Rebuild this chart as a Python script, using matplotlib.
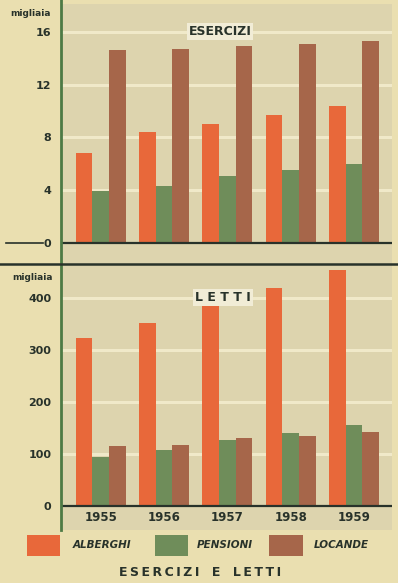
import matplotlib.pyplot as plt
from matplotlib.lines import Line2D
from matplotlib.patches import Rectangle

# Data (migliaia)
anni = ['1955', '1956', '1957', '1958', '1959']
esercizi_alberghi = [6.8, 8.4, 9.0, 9.7, 10.4]
esercizi_pensioni = [3.9, 4.3, 5.05, 5.5, 6.0]
esercizi_locande = [14.6, 14.7, 14.9, 15.05, 15.3]
letti_alberghi = [323, 351, 386, 418, 453]
letti_pensioni = [93, 107, 126, 140, 156]
letti_locande = [115, 117, 130, 135, 141]
serie = ['ALBERGHI', 'PENSIONI', 'LOCANDE']

# Colours
ORANGE = '#e8683a'
GREEN = '#6f8d5a'
BROWN = '#a6664a'
colori = [ORANGE, GREEN, BROWN]
BG = '#eadfb0'
PLOT_BG = '#ddd4ae'
GRID = '#f0e9c9'
DARK = '#28322a'
AXGREEN = '#4d7a45'

W, H = 398, 583
fig = plt.figure(figsize=(W / 100, H / 100), dpi=100)
fig.patch.set_facecolor(BG)


def px(x0, y0, x1, y1):
    # pixel box (top-left origin) -> figure fraction rect
    return [x0 / W, 1 - y1 / H, (x1 - x0) / W, (y1 - y0) / H]


def fx(x):
    return x / W


def fy(y):
    return 1 - y / H


# background panel for plot region
fig.add_artist(Rectangle((fx(61), fy(530)), fx(392) - fx(61), fy(4) - fy(530),
                         transform=fig.transFigure, facecolor=PLOT_BG,
                         edgecolor='none', zorder=0))

bw = 0.264
offs = [-bw, 0, bw]
xpos = list(range(len(anni)))


def setup(ax, ylim, ticks, grid):
    ax.set_facecolor('none')
    ax.set_xlim(-0.627, 4.60)
    ax.set_ylim(*ylim)
    for s in ax.spines.values():
        s.set_visible(False)
    ax.set_xticks([])
    ax.set_yticks(ticks)
    ax.set_yticklabels([str(t) for t in ticks], fontsize=8, fontweight='bold',
                       color=DARK)
    ax.tick_params(axis='y', length=0, pad=7)
    for g in grid:
        ax.axhline(g, color=GRID, lw=2.2, zorder=0.5)
    ax.axhline(0, color=DARK, lw=1.6, zorder=3)


# Top panel: ESERCIZI
ax1 = fig.add_axes(px(61, 4, 392, 262))
setup(ax1, (-1.45, 18.1), [0, 4, 8, 12, 16], [4, 8, 12, 16])
for k, vals in enumerate([esercizi_alberghi, esercizi_pensioni, esercizi_locande]):
    ax1.bar([x + offs[k] for x in xpos], vals, width=bw, color=colori[k],
            zorder=2, linewidth=0)
ax1.text(0.48, 16, 'ESERCIZI', ha='center', va='center', fontsize=9,
         fontweight='bold', color=DARK, transform=ax1.get_yaxis_transform(),
         bbox=dict(boxstyle='square,pad=0.15', facecolor='#f1ecd6',
                   edgecolor='none'), zorder=4)

# Bottom panel: LETTI
ax2 = fig.add_axes(px(61, 266, 392, 530))
setup(ax2, (-46.7, 461), [0, 100, 200, 300, 400], [100, 200, 300, 400])
for k, vals in enumerate([letti_alberghi, letti_pensioni, letti_locande]):
    ax2.bar([x + offs[k] for x in xpos], vals, width=bw, color=colori[k],
            zorder=2, linewidth=0)
ax2.text(0.49, 400, 'L E T T I', ha='center', va='center', fontsize=9,
         fontweight='bold', color=DARK, transform=ax2.get_yaxis_transform(),
         bbox=dict(boxstyle='square,pad=0.15', facecolor='#f1ecd6',
                   edgecolor='none'), zorder=4)
for x, a in zip(xpos, anni):
    ax2.text(x, -22, a, ha='center', va='center', fontsize=8.5,
             fontweight='bold', color=DARK)

# lines drawn on the figure
fig.add_artist(Line2D([fx(61), fx(61)], [fy(0), fy(530)], color=AXGREEN,
                      lw=2, transform=fig.transFigure, zorder=5))
fig.add_artist(Line2D([fx(0), fx(398)], [fy(264), fy(264)], color=DARK,
                      lw=1.8, transform=fig.transFigure, zorder=5))
fig.add_artist(Line2D([fx(6), fx(43)], [fy(243), fy(243)], color=DARK,
                      lw=1.2, transform=fig.transFigure, zorder=5))

# unit labels
fig.text(fx(10), fy(14), 'migliaia', fontsize=6.5, fontweight='bold',
         color=DARK, va='center')
fig.text(fx(12), fy(277), 'migliaia', fontsize=6.5, fontweight='bold',
         color=DARK, va='center')

# legend
leg_x = [(27, 60, 73), (155, 188, 197), (269, 303, 314)]
for (x0, x1, tx), c, s in zip(leg_x, colori, serie):
    fig.add_artist(Rectangle((fx(x0), fy(556)), fx(x1) - fx(x0),
                             fy(535) - fy(556), transform=fig.transFigure,
                             facecolor=c, edgecolor='none', zorder=5))
    fig.text(fx(tx), fy(545), s, fontsize=7.5, fontweight='bold',
             style='italic', color=DARK, va='center')

titolo = '\u2009'.join('ESERCIZI') + '\u2003' + 'E' + '\u2003' + '\u2009'.join('LETTI')
fig.text(fx(200), fy(573), titolo, ha='center', va='center', fontsize=9,
         fontweight='bold', color=DARK)

fig.savefig('out.png', dpi=100, facecolor=BG)
